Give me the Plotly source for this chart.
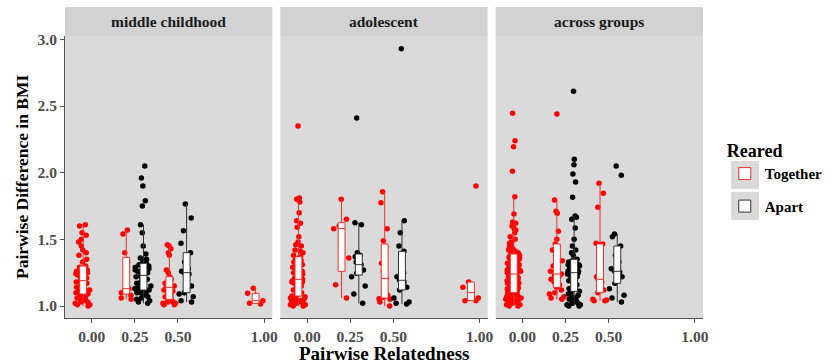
import plotly.graph_objects as go
from plotly.subplots import make_subplots

# ---------------- data ----------------
panels = ["middle childhood", "adolescent", "across groups"]
groups = ["Together", "Apart"]
x_ticks = [0.0, 0.25, 0.5, 1.0]
x_tick_labels = ["0.00", "0.25", "0.50", "1.00"]
y_ticks = [1.0, 1.5, 2.0, 2.5, 3.0]
y_tick_labels = ["1.0", "1.5", "2.0", "2.5", "3.0"]

# middle childhood
mc_together_000 = [1.00, 1.01, 1.01, 1.02, 1.03, 1.03, 1.04, 1.05, 1.05, 1.06, 1.07, 1.08, 1.09,
                   1.10, 1.11, 1.12, 1.13, 1.14, 1.15, 1.16, 1.17, 1.17, 1.18, 1.18, 1.19,
                   1.20, 1.21, 1.22, 1.23, 1.24, 1.25, 1.26, 1.27, 1.28, 1.28, 1.29, 1.30,
                   1.33, 1.35, 1.38, 1.40, 1.42, 1.45, 1.48, 1.50, 1.53, 1.55, 1.60, 1.61]
mc_together_025 = [1.05, 1.06, 1.08, 1.10, 1.12, 1.13, 1.19, 1.33, 1.40, 1.54, 1.57]
mc_apart_025 = [1.02, 1.03, 1.04, 1.05, 1.06, 1.07, 1.08, 1.09, 1.10, 1.10, 1.11, 1.11, 1.12,
                1.13, 1.14, 1.15, 1.16, 1.17, 1.18, 1.19, 1.20, 1.21, 1.22, 1.22, 1.23,
                1.24, 1.25, 1.25, 1.26, 1.27, 1.28, 1.29, 1.30, 1.30, 1.31, 1.31, 1.32,
                1.33, 1.35, 1.36, 1.39, 1.45, 1.55, 1.61, 1.75, 1.79, 1.90, 1.96, 2.05]
mc_together_050 = [1.01, 1.01, 1.02, 1.02, 1.03, 1.03, 1.04, 1.05, 1.06, 1.07, 1.08, 1.10, 1.11,
                   1.12, 1.14, 1.15, 1.16, 1.17, 1.18, 1.19, 1.20, 1.22, 1.25, 1.27, 1.38,
                   1.40, 1.43, 1.45, 1.46]
mc_apart_050 = [1.03, 1.04, 1.07, 1.09, 1.10, 1.15, 1.20, 1.24, 1.25, 1.26, 1.28, 1.33, 1.40,
                1.47, 1.565, 1.66, 1.765]
mc_together_100 = [1.015, 1.02, 1.04, 1.095, 1.133]

# adolescent
ad_together_000 = [1.00, 1.00, 1.01, 1.01, 1.02, 1.02, 1.03, 1.03, 1.03, 1.04, 1.04, 1.05, 1.05,
                   1.06, 1.06, 1.07, 1.07, 1.075, 1.08, 1.09, 1.10, 1.10, 1.11, 1.12, 1.13,
                   1.14, 1.15, 1.16, 1.17, 1.18, 1.18, 1.19, 1.20, 1.20, 1.20, 1.21, 1.22,
                   1.23, 1.24, 1.25, 1.26, 1.27, 1.28, 1.29, 1.30, 1.31, 1.32, 1.33, 1.34,
                   1.35, 1.36, 1.37, 1.38, 1.40, 1.41, 1.42, 1.45, 1.46, 1.48, 1.52, 1.59,
                   1.62, 1.64, 1.70, 1.78, 1.80, 1.80, 1.81, 2.35]
ad_together_025 = [1.06, 1.16, 1.36, 1.58, 1.60, 1.65, 1.80]
ad_apart_025 = [1.02, 1.09, 1.15, 1.22, 1.245, 1.27, 1.30, 1.31, 1.33, 1.37, 1.38, 1.40, 1.61,
                1.625, 2.41]
ad_together_050 = [1.00, 1.03, 1.05, 1.055, 1.065, 1.08, 1.15, 1.207, 1.26, 1.32, 1.44, 1.49,
                   1.58, 1.775, 1.857]
ad_apart_050 = [1.015, 1.02, 1.03, 1.06, 1.12, 1.14, 1.16, 1.18, 1.193, 1.22, 1.25, 1.33, 1.41,
                1.45, 1.55, 1.64, 2.93]
ad_together_100 = [1.04, 1.04, 1.06, 1.14, 1.18, 1.90]

# across groups
ag_together_000 = [1.00, 1.00, 1.01, 1.01, 1.02, 1.02, 1.03, 1.03, 1.03, 1.04, 1.04, 1.05, 1.05,
                   1.05, 1.06, 1.06, 1.07, 1.07, 1.07, 1.08, 1.08, 1.08, 1.09, 1.09, 1.09,
                   1.10, 1.11, 1.11, 1.12, 1.12, 1.13, 1.13, 1.14, 1.14, 1.15, 1.15, 1.16,
                   1.16, 1.17, 1.17, 1.18, 1.18, 1.19, 1.19, 1.20, 1.21, 1.21, 1.22, 1.23,
                   1.23, 1.24, 1.25, 1.25, 1.26, 1.26, 1.27, 1.27, 1.28, 1.28, 1.29, 1.29,
                   1.30, 1.30, 1.31, 1.31, 1.32, 1.32, 1.33, 1.34, 1.34, 1.35, 1.36, 1.36,
                   1.37, 1.38, 1.39, 1.40, 1.41, 1.41, 1.42, 1.43, 1.44, 1.45, 1.46, 1.47,
                   1.48, 1.50, 1.52, 1.55, 1.57, 1.58, 1.60, 1.61, 1.62, 1.63, 1.69, 1.82,
                   2.01, 2.195, 2.24, 2.445]
ag_together_025 = [1.05, 1.06, 1.07, 1.09, 1.10, 1.12, 1.14, 1.16, 1.18, 1.20, 1.22, 1.23, 1.24,
                   1.26, 1.30, 1.34, 1.38, 1.42, 1.465, 1.50, 1.56, 1.695, 1.71, 1.795, 2.44]
ag_apart_025 = [1.00, 1.00, 1.01, 1.01, 1.02, 1.02, 1.03, 1.04, 1.04, 1.05, 1.06, 1.07, 1.08,
                1.09, 1.10, 1.11, 1.12, 1.13, 1.14, 1.15, 1.16, 1.17, 1.18, 1.19, 1.20,
                1.21, 1.22, 1.22, 1.23, 1.24, 1.25, 1.26, 1.26, 1.27, 1.27, 1.28, 1.29,
                1.29, 1.30, 1.31, 1.31, 1.32, 1.33, 1.33, 1.34, 1.35, 1.38, 1.40, 1.42,
                1.45, 1.50, 1.585, 1.65, 1.665, 1.675, 1.815, 1.93, 1.99, 2.06, 2.10, 2.61]
ag_together_050 = [1.04, 1.04, 1.045, 1.05, 1.10, 1.12, 1.14, 1.18, 1.20, 1.22, 1.33, 1.46,
                   1.465, 1.47, 1.74, 1.845, 1.92]
ag_apart_050 = [1.03, 1.06, 1.08, 1.13, 1.17, 1.22, 1.25, 1.255, 1.26, 1.28, 1.33, 1.38, 1.45,
                1.52, 1.54, 1.98, 2.05]

# (panel index, relatedness, group, values)
series = [
    (0, 0.00, "Together", mc_together_000),
    (0, 0.25, "Together", mc_together_025),
    (0, 0.25, "Apart", mc_apart_025),
    (0, 0.50, "Together", mc_together_050),
    (0, 0.50, "Apart", mc_apart_050),
    (0, 1.00, "Together", mc_together_100),
    (1, 0.00, "Together", ad_together_000),
    (1, 0.25, "Together", ad_together_025),
    (1, 0.25, "Apart", ad_apart_025),
    (1, 0.50, "Together", ad_together_050),
    (1, 0.50, "Apart", ad_apart_050),
    (1, 1.00, "Together", ad_together_100),
    (2, 0.00, "Together", ag_together_000),
    (2, 0.25, "Together", ag_together_025),
    (2, 0.25, "Apart", ag_apart_025),
    (2, 0.50, "Together", ag_together_050),
    (2, 0.50, "Apart", ag_apart_050),
]

# ---------------- style ----------------
FONT = "Liberation Serif"
point_color = {"Together": "#FF0000", "Apart": "#000000"}
box_line = {"Together": "#F0302A", "Apart": "#333333"}
dodge = {"Together": -0.05, "Apart": 0.05}
BOX_W = 0.04
JIT_W = 0.11
PANEL_BG = "#DADADA"
STRIP_BG = "#D2D2D2"
KEY_BG = "#DADADA"

W, H = 835, 364
ML, MR, MT, MB = 65, 132, 36, 46
PW, PH = W - ML - MR, H - MT - MB


def px_x(px):
    return (px - ML) / PW


def px_y(py):
    return (H - MB - py) / PH


fig = make_subplots(rows=1, cols=3, shared_yaxes=True, horizontal_spacing=0.0125)

legend_done = set()
# jittered points first (below boxes)
for p, rel, g, vals in series:
    fig.add_trace(go.Box(
        y=vals, x0=rel + dodge[g], width=JIT_W,
        boxpoints="all", jitter=1, pointpos=0,
        fillcolor="rgba(0,0,0,0)", line=dict(color="rgba(0,0,0,0)", width=0),
        whiskerwidth=0,
        marker=dict(color=point_color[g], size=5.5, line=dict(width=0)),
        showlegend=False, hoverinfo="skip",
    ), row=1, col=p + 1)

# boxes (whiskers to 1.5 IQR, outlier markers hidden)
for p, rel, g, vals in series:
    show = g not in legend_done
    legend_done.add(g)
    fig.add_trace(go.Box(
        y=vals, x0=rel + dodge[g], width=BOX_W,
        boxpoints="outliers", quartilemethod="inclusive",
        marker=dict(color="rgba(0,0,0,0)", size=1, line=dict(width=0)),
        fillcolor="white", line=dict(color=box_line[g], width=1),
        whiskerwidth=0, name=g, legendgroup=g, showlegend=show,
    ), row=1, col=p + 1)

fig.update_layout(
    width=W, height=H,
    margin=dict(l=ML, r=MR, t=MT, b=MB, autoexpand=False),
    paper_bgcolor="white", plot_bgcolor=PANEL_BG,
    boxmode="overlay",
    font=dict(family=FONT, color="#1A1A1A"),
    legend=dict(
        title=dict(text="<b>Reared</b>", font=dict(family=FONT, size=18, color="#000000")),
        font=dict(family=FONT, size=15, color="#000000", weight="bold"),
        xref="container", yref="container",
        x=0.868, xanchor="left", y=0.632, yanchor="top",
        bgcolor="rgba(0,0,0,0)", tracegroupgap=10,
    ),
    showlegend=True,
)

for i in range(3):
    fig.update_xaxes(
        range=[-0.155, 1.047], tickvals=x_ticks, ticktext=x_tick_labels,
        showgrid=False, zeroline=False, showline=True, linecolor="#555555", linewidth=1,
        ticks="outside", ticklen=4, tickcolor="#555555",
        tickfont=dict(family=FONT, size=15.5, color="#4D4D4D", weight="bold"),
        row=1, col=i + 1,
    )
    fig.update_yaxes(
        range=[0.91, 3.025], tickvals=y_ticks, ticktext=y_tick_labels,
        showgrid=False, zeroline=False,
        row=1, col=i + 1,
    )

fig.update_yaxes(showline=True, linecolor="#555555", linewidth=1, ticks="outside", ticklen=4,
                 tickcolor="#555555",
                 tickfont=dict(family=FONT, size=15.5, color="#4D4D4D", weight="bold"),
                 row=1, col=1)
fig.update_yaxes(showticklabels=False, ticks="", showline=False, row=1, col=2)
fig.update_yaxes(showticklabels=False, ticks="", showline=False, row=1, col=3)

# facet strips
xrefs = ["x", "x2", "x3"]
for i, name in enumerate(panels):
    fig.add_shape(type="rect", xref=f"{xrefs[i]} domain", yref="paper",
                  x0=0, x1=1, y0=1.0, y1=px_y(7), fillcolor=STRIP_BG, line=dict(width=0),
                  layer="below")
    fig.add_annotation(text=f"<b>{name}</b>", xref=f"{xrefs[i]} domain", yref="paper",
                       x=0.5, y=px_y(21.5), showarrow=False, xanchor="center", yanchor="middle",
                       font=dict(family=FONT, size=15.5, color="#1A1A1A"))

# legend key backgrounds
for top in (161, 192):
    fig.add_shape(type="rect", xref="paper", yref="paper",
                  x0=px_x(731), x1=px_x(759), y0=px_y(top + 28), y1=px_y(top),
                  fillcolor=KEY_BG, line=dict(width=0), layer="below")

# axis titles
fig.add_annotation(text="<b>Pairwise Relatedness</b>", xref="paper", yref="paper",
                   x=0.5, y=px_y(353), showarrow=False, xanchor="center", yanchor="middle",
                   font=dict(family=FONT, size=19, color="#000000"))
fig.add_annotation(text="<b>Pairwise Difference in BMI</b>", xref="paper", yref="paper",
                   x=px_x(22), y=px_y(177), textangle=-90, showarrow=False,
                   xanchor="center", yanchor="middle",
                   font=dict(family=FONT, size=17.5, color="#000000"))

fig.write_html("out.html", config={"displayModeBar": False},
               post_script="document.body.style.margin='0px';")
